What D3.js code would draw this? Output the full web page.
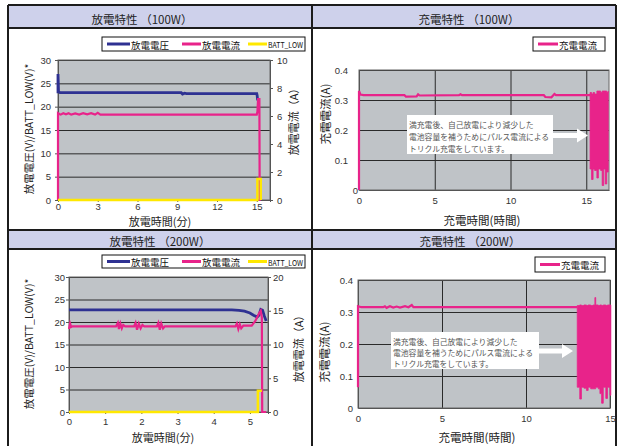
<!DOCTYPE html>
<html>
<head>
<meta charset="utf-8">
<script src="https://cdn.jsdelivr.net/npm/d3@7"></script>
<style>
  html, body { margin: 0; padding: 0; background: #fff; }
  svg { display: block; }
  text { font-family: "Noto Sans CJK JP", "Noto Sans", sans-serif; }
</style>
</head>
<body>
<svg id="chart" width="620" height="446"></svg>
<script>
// ---- Discharge, 100W (time in minutes) ----
const dis100Voltage = [[0,22.9],[0,27],[0.04,23.2],[0.15,23.0],[5,23.0],[9.3,23.0],[9.4,22.7],[9.55,22.9],[9.7,22.8],[15.0,22.8],[15.03,22.4],[15.06,21.6],[15.12,21.6]];
const dis100Current = [[0,0],[0,6.2],[0.2,6.1],[0.4,6.2],[0.6,6.12],[0.8,6.2],[1.0,6.1],[1.3,6.18],[1.6,6.1],[1.9,6.2],[2.2,6.12],[2.5,6.2],[2.8,6.1],[3.0,6.22],[3.2,6.1],[15.0,6.1],[15.05,6.3],[15.1,7.2],[15.2,7.2],[15.22,0],[15.3,0]];
const dis100BattLow = [[0,0],[15.05,0],[15.05,4.5],[15.3,4.5],[15.3,0]];

// ---- Discharge, 200W ----
const dis200Voltage = [[0,22.7],[4.5,22.7],[4.7,22.6],[4.85,22.4],[5.0,22.0],[5.1,21.5],[5.2,21.1],[5.25,21.5],[5.3,22.8],[5.35,22.6],[5.4,21.3],[5.45,20.2]];
const dis200Current = [[0,12.3],[0.03,13.1],[0.06,12.6],[0.1,12.7],[1.3,12.7],[1.35,13.2],[1.38,12.3],[1.42,13.1],[1.46,12.4],[1.5,12.9],[1.55,12.7],[1.8,12.7],[1.84,13.2],[1.88,12.2],[1.93,13.1],[1.98,12.4],[2.03,12.9],[2.08,12.7],[2.43,12.7],[2.47,13.2],[2.51,12.2],[2.55,13.1],[2.6,12.4],[2.65,12.7],[4.6,12.7],[4.64,13.1],[4.68,12.3],[4.72,13.0],[4.76,12.4],[4.82,12.8],[5.05,12.8],[5.15,13.5],[5.25,14.6],[5.3,15.0],[5.33,14.0],[5.34,0],[5.45,0]];
const dis200BattLow = [[0,0],[5.22,0],[5.22,4.7],[5.33,4.7]];

// ---- Charge, 100W (time in hours) ----
const chg100Current = [[0,0],[0,0.33],[0.1,0.318],[0.3,0.316],[3.0,0.316],[3.1,0.311],[3.8,0.312],[3.9,0.319],[4.0,0.315],[6.6,0.316],[6.7,0.319],[6.8,0.316],[12.2,0.316],[12.3,0.31],[12.7,0.309],[12.9,0.32],[13.0,0.316],[15.25,0.316]];
// trickle pulses: [time, low, high]
const chg100Trickle = [[15.25,0.07,0.325],[15.35,0.035,0.32],[15.45,0.07,0.325],[15.55,0.065,0.32],[15.7,0.04,0.33],[15.8,0.07,0.33],[15.95,0.065,0.325],[16.05,0.015,0.33],[16.15,0.07,0.33],[16.25,0.02,0.33],[16.35,0.06,0.325],[16.45,0.065,0.33]];

// ---- Charge, 200W ----
const chg200Current = [[0,0.065],[0,0.318],[0.2,0.315],[1.5,0.315],[1.6,0.318],[1.7,0.313],[1.9,0.318],[2.1,0.314],[2.3,0.317],[2.5,0.314],[2.8,0.318],[3.0,0.315],[3.2,0.322],[3.3,0.315],[13.05,0.315]];
const chg200Trickle = [[13.05,0.065,0.32],[13.2,0.028,0.322],[13.3,0.065,0.32],[13.45,0.062,0.322],[13.6,0.055,0.32],[13.7,0.065,0.322],[13.85,0.06,0.32],[14.0,0.06,0.322],[14.1,0.06,0.345],[14.15,0.065,0.322],[14.3,0.06,0.32],[14.4,0.045,0.322],[14.5,0.015,0.32],[14.6,0.065,0.322],[14.75,0.03,0.32],[14.85,0.065,0.322],[15.0,0.04,0.322],[15.05,0.04,0.32]];

// ---- Tick values ----
const voltTicks = [0,5,10,15,20,25,30];
const cur100Ticks = [0,2,4,6,8,10];
const cur200Ticks = [0,5,10,15,20];
const min100Ticks = [0,3,6,9,12,15];
const min200Ticks = [0,1,2,3,4,5];
const chgTicks = [0,0.1,0.2,0.3,0.4];
const hourTicks = [0,5,10,15];

// ---- Text ----
const titles = ["放電特性 （100W）","充電特性 （100W）","放電特性 （200W）","充電特性 （200W）"];
const disLegend = ["放電電圧","放電電流","BATT_LOW"];
const chgLegend = ["充電電流"];
const noteLines = ["満充電後、自己放電により減少した","電池容量を補うためにパルス電流による","トリクル充電をしています。"];

const C = { volt: "#2e3192", cur: "#e8238a", batt: "#ffe800", plot: "#bfc3c7", grid: "#2a2a2a", header: "#ced1eb", frame: "#1c1c1c", tick: "#333" };

const svg = d3.select("#chart");

// ---- Table frame ----
svg.append("rect").attr("x", 8).attr("y", 5).attr("width", 608).attr("height", 23).attr("fill", C.header);
svg.append("rect").attr("x", 8).attr("y", 230).attr("width", 608).attr("height", 19).attr("fill", C.header);
const frame = svg.append("g").attr("stroke", C.frame).attr("stroke-width", 2);
[[8,5,616,5],[8,28,616,28],[8,230,616,230],[8,249,616,249],[8,5,8,446],[616,5,616,446],[312,5,312,446]]
  .forEach(d => frame.append("line").attr("x1", d[0]).attr("y1", d[1]).attr("x2", d[2]).attr("y2", d[3]));

[[142,18.5],[469,18.5],[160,240.5],[470,240.5]].forEach((p, i) => {
  svg.append("text").attr("x", p[0]).attr("y", p[1]).attr("text-anchor", "middle")
    .attr("dominant-baseline", "central").attr("font-size", 11.5).attr("fill", "#222").text(titles[i]);
});

function styleAxis(g) {
  g.select(".domain").attr("stroke", "#555");
  g.selectAll(".tick line").attr("stroke", "#555");
  g.selectAll(".tick text").attr("fill", C.tick).attr("font-size", 9.5)
    .style("font-family", "'Liberation Sans', Arial, sans-serif");
}

function rotLabel(x, y, txt, size) {
  svg.append("text").attr("transform", `translate(${x},${y}) rotate(-90)`)
    .attr("text-anchor", "middle").attr("dominant-baseline", "central")
    .attr("font-size", size).attr("fill", "#222").text(txt);
}

function legendBox(x, y, w, h, items) {
  const g = svg.append("g");
  g.append("rect").attr("x", x).attr("y", y).attr("width", w).attr("height", h)
    .attr("fill", "#fff").attr("stroke", "#111").attr("stroke-width", 1);
  items.forEach(it => {
    g.append("line").attr("x1", it.x1).attr("x2", it.x2).attr("y1", y + h / 2).attr("y2", y + h / 2)
      .attr("stroke", it.color).attr("stroke-width", 3);
    const t = g.append("text").attr("x", it.x2 + 1).attr("y", y + h / 2 + 0.5)
      .attr("dominant-baseline", "central").attr("font-size", it.size).attr("fill", "#111").text(it.label);
    if (it.len) t.attr("textLength", it.len).attr("lengthAdjust", "spacingAndGlyphs");
  });
}

// ---- Discharge panel ----
function discharge(cfg) {
  const { L, R, T, B } = cfg;
  const x = d3.scaleLinear().domain(cfg.xDomain).range([L, R]);
  const yL = d3.scaleLinear().domain([0, 30]).range([B, T]);
  const yR = d3.scaleLinear().domain([0, cfg.curMax]).range([B, T]);

  svg.append("rect").attr("x", L).attr("y", T).attr("width", R - L).attr("height", B - T).attr("fill", C.plot);
  svg.append("g").attr("transform", `translate(${L},0)`)
    .call(d3.axisLeft(yL).tickValues(voltTicks.slice(1)).tickSize(-(R - L)).tickFormat(""))
    .call(g => { g.select(".domain").remove(); g.selectAll("line").attr("stroke", C.grid); });
  svg.append("rect").attr("x", L).attr("y", T).attr("width", R - L).attr("height", B - T)
    .attr("fill", "none").attr("stroke", "#666");

  svg.append("g").attr("transform", `translate(${L},0)`)
    .call(d3.axisLeft(yL).tickValues(voltTicks).tickSize(3).tickPadding(cfg.padL)).call(styleAxis);
  svg.append("g").attr("transform", `translate(${R},0)`)
    .call(d3.axisRight(yR).tickValues(cfg.curTicks).tickSize(3).tickPadding(cfg.padR)).call(styleAxis);
  svg.append("g").attr("transform", `translate(0,${B})`)
    .call(d3.axisBottom(x).tickValues(cfg.xTicks).tickSize(2).tickPadding(cfg.padX).tickFormat(d3.format("d"))).call(styleAxis);

  const lineL = d3.line().x(d => x(d[0])).y(d => yL(d[1]));
  const lineR = d3.line().x(d => x(d[0])).y(d => yR(d[1]));
  svg.append("path").datum(cfg.volt).attr("d", lineL).attr("fill", "none").attr("stroke", C.volt).attr("stroke-width", 2.8);
  svg.append("path").datum(cfg.cur).attr("d", lineR).attr("fill", "none").attr("stroke", C.cur).attr("stroke-width", 2.2);
  svg.append("path").datum(cfg.batt).attr("d", lineL).attr("fill", "none").attr("stroke", C.batt).attr("stroke-width", 2.5);

  rotLabel(28, cfg.ylY, "放電電圧(V)/BATT_LOW(V)*", 10.5);
  rotLabel(cfg.yrX, cfg.yrY, "放電電流（A）", 11);
  svg.append("text").attr("x", cfg.xlX).attr("y", cfg.xlY).attr("text-anchor", "middle")
    .attr("dominant-baseline", "central").attr("font-size", 11).attr("fill", "#222").text("放電時間(分)");

  legendBox(102, cfg.legY, 203, cfg.legH, [
    { x1: 107, x2: 130, color: C.volt, label: disLegend[0], size: 9.5 },
    { x1: 182, x2: 201, color: C.cur, label: disLegend[1], size: 9.5 },
    { x1: 248, x2: 267, color: C.batt, label: disLegend[2], size: 8, len: 35 }
  ]);
}

// ---- Charge panel ----
function charge(cfg) {
  const { L, R, T, B } = cfg;
  const x = d3.scaleLinear().domain(cfg.xDomain).range([L, R]);
  const y = d3.scaleLinear().domain([0, 0.4]).range([B, T]);

  svg.append("rect").attr("x", L).attr("y", T).attr("width", R - L).attr("height", B - T).attr("fill", C.plot);
  svg.append("g").attr("transform", `translate(${L},0)`)
    .call(d3.axisLeft(y).tickValues(chgTicks.slice(1)).tickSize(-(R - L)).tickFormat(""))
    .call(g => { g.select(".domain").remove(); g.selectAll("line").attr("stroke", C.grid); });
  svg.append("g").attr("transform", `translate(0,${B})`)
    .call(d3.axisBottom(x).tickValues(hourTicks.slice(1)).tickSize(-(B - T)).tickFormat(""))
    .call(g => { g.select(".domain").remove(); g.selectAll("line").attr("stroke", C.grid); });
  svg.append("rect").attr("x", L).attr("y", T).attr("width", R - L).attr("height", B - T)
    .attr("fill", "none").attr("stroke", "#666");

  svg.append("g").attr("transform", `translate(${L},0)`)
    .call(d3.axisLeft(y).tickValues(chgTicks).tickSize(0).tickPadding(cfg.padY)
      .tickFormat(d => d === 0 ? "0" : d3.format(".1f")(d))).call(styleAxis)
    .call(g => g.selectAll(".tick").filter(d => d === 0).select("text").attr("dx", cfg.zeroDx));
  svg.append("g").attr("transform", `translate(0,${B})`)
    .call(d3.axisBottom(x).tickValues(hourTicks).tickSize(0).tickPadding(7)).call(styleAxis);

  const line = d3.line().x(d => x(d[0])).y(d => y(d[1]));
  svg.append("path").datum(cfg.cur).attr("d", line).attr("fill", "none").attr("stroke", C.cur).attr("stroke-width", 2.2);
  const area = d3.area().curve(d3.curveStepAfter).x(d => x(d[0])).y0(d => y(d[1])).y1(d => y(d[2]));
  svg.append("path").datum(cfg.trickle).attr("d", area).attr("fill", C.cur).attr("stroke", C.cur).attr("stroke-width", 0.8);

  // note box with arrow
  const n = cfg.note;
  svg.append("rect").attr("x", n.x).attr("y", n.y).attr("width", n.w).attr("height", n.h).attr("fill", "#fff");
  noteLines.forEach((t, i) => {
    svg.append("text").attr("x", n.x + 2).attr("y", n.y + n.lh * (i + 0.75) + 1)
      .attr("dominant-baseline", "central").attr("font-size", 7.8).attr("fill", "#555").text(t);
  });
  const ay = n.ay, ax0 = n.x + n.w, ax1 = n.tip;
  svg.append("path").attr("fill", "#fff")
    .attr("d", `M${ax0},${ay - 2.5}L${ax1 - 11},${ay - 2.5}L${ax1 - 11},${ay - 7}L${ax1},${ay}L${ax1 - 11},${ay + 7}L${ax1 - 11},${ay + 2.5}L${ax0},${ay + 2.5}Z`);

  rotLabel(cfg.ylX, cfg.ylY, "充電電流(A)", 11.5);
  svg.append("text").attr("x", cfg.xlX).attr("y", cfg.xlY).attr("text-anchor", "middle")
    .attr("dominant-baseline", "central").attr("font-size", 11.5).attr("fill", "#222").text("充電時間(時間)");

  legendBox(cfg.leg[0], cfg.leg[1], cfg.leg[2], cfg.leg[3], [
    { x1: cfg.leg[0] + 5, x2: cfg.leg[0] + 25, color: C.cur, label: chgLegend[0], size: 9.5 }
  ]);
}

discharge({ L: 58, R: 270, T: 60, B: 200, xDomain: [0, 16], curMax: 10, curTicks: cur100Ticks, xTicks: min100Ticks,
  volt: dis100Voltage, cur: dis100Current, batt: dis100BattLow, padL: 4, padR: 4, padX: 1,
  ylY: 129, yrX: 293, yrY: 119, xlX: 160, xlY: 220.5, legY: 37, legH: 14 });

charge({ L: 359, R: 609, T: 70, B: 190, xDomain: [0, 16.5], cur: chg100Current, trickle: chg100Trickle,
  padY: 11, zeroDx: 10,
  note: { x: 407, y: 115, w: 146, h: 39, lh: 11.7, ay: 135.5, tip: 588 },
  ylX: 325, ylY: 114, xlX: 482, xlY: 220, leg: [533, 37, 72, 14] });

discharge({ L: 69, R: 268, T: 277, B: 412, xDomain: [0, 5.5], curMax: 20, curTicks: cur200Ticks, xTicks: min200Ticks,
  volt: dis200Voltage, cur: dis200Current, batt: dis200BattLow, padL: 1, padR: 2, padX: 4,
  ylY: 344, yrX: 298, yrY: 346, xlX: 163, xlY: 437, legY: 255, legH: 13 });

charge({ L: 358, R: 610, T: 280, B: 408, xDomain: [0, 15], cur: chg200Current, trickle: chg200Trickle,
  padY: 5, zeroDx: 0,
  note: { x: 391, y: 332, w: 148, h: 37, lh: 11, ay: 351, tip: 573 },
  ylX: 324, ylY: 352, xlX: 477, xlY: 437, leg: [535, 257, 70, 15] });
</script>
</body>
</html>
